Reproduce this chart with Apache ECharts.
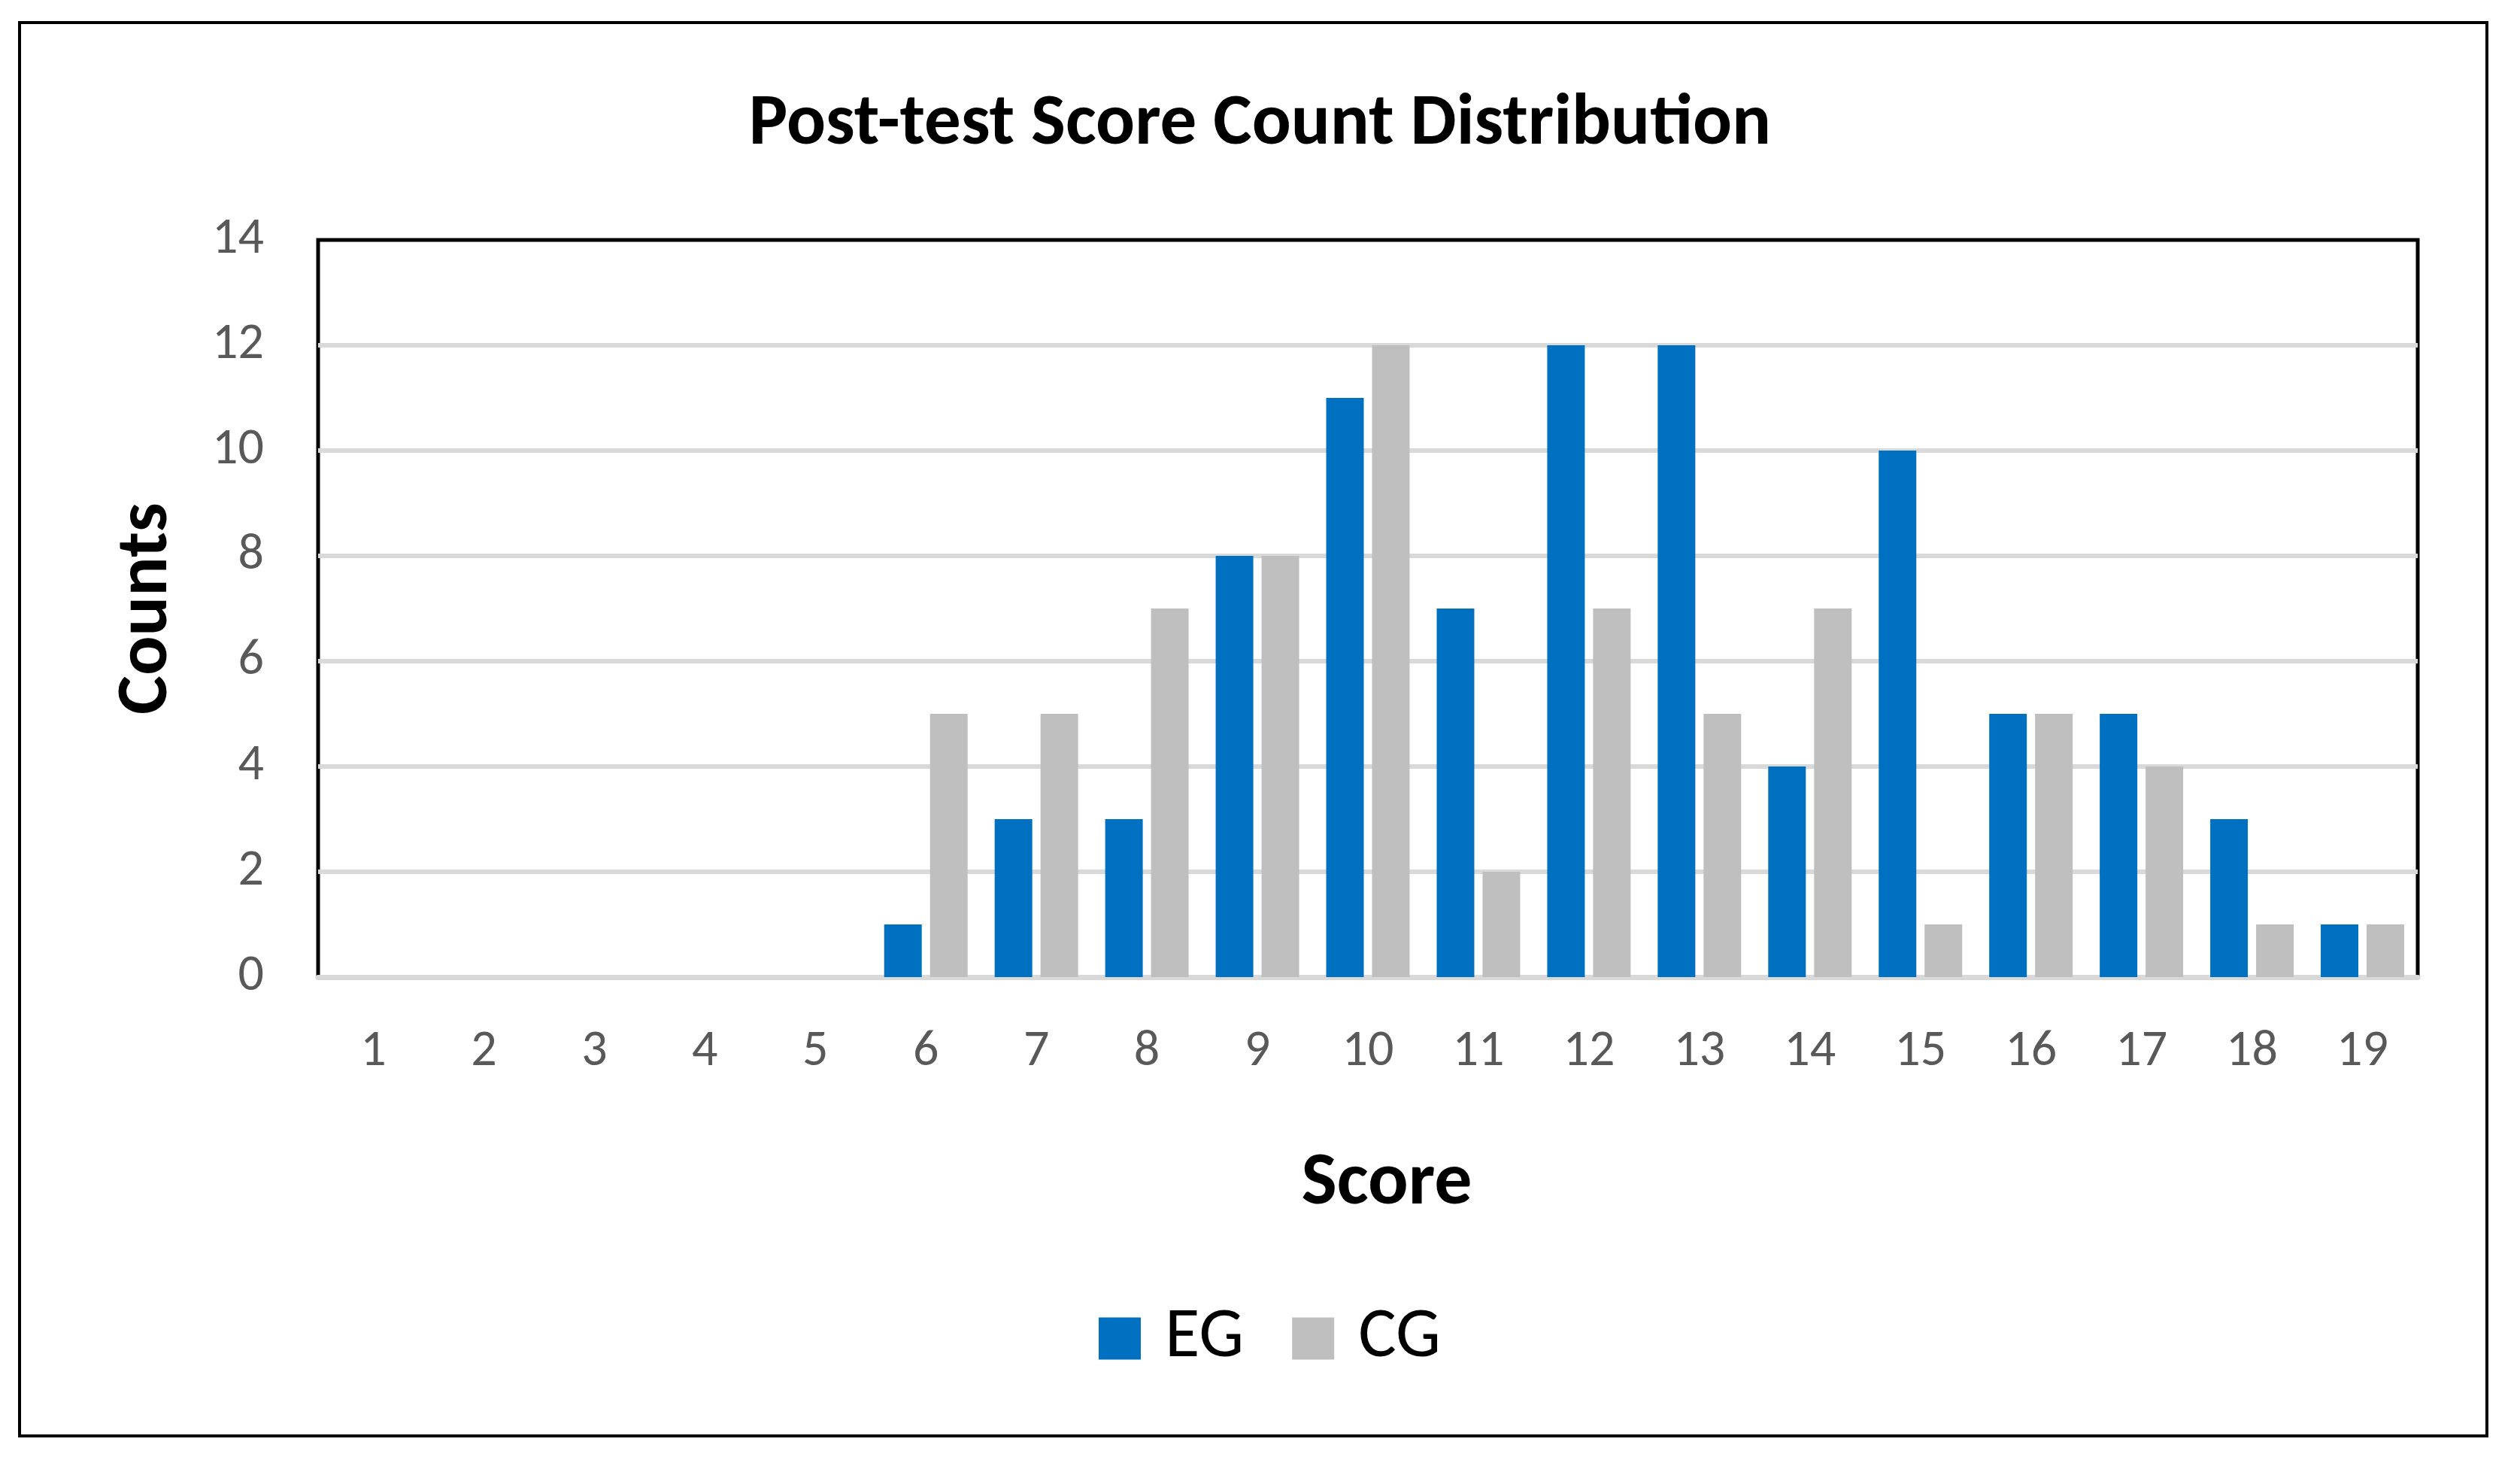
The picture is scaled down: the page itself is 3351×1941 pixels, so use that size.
<!DOCTYPE html>
<html lang="en">
<head>
  <meta charset="UTF-8">
  <title>Post-test Score Count Distribution</title>
  <script src="https://cdn.jsdelivr.net/npm/echarts@6/dist/echarts.min.js"></script>
  <style>
    html, body { margin: 0; padding: 0; background: #fff; }
    #chart { width: 3351px; height: 1941px; }
  </style>
</head>
<body>
  <div id="chart"></div>
<script>
  // data
  var scores = ['1', '2', '3', '4', '5', '6', '7', '8', '9', '10', '11', '12', '13', '14', '15', '16', '17', '18', '19']
  var egCounts = [0, 0, 0, 0, 0, 1, 3, 3, 8, 11, 7, 12, 12, 4, 10, 5, 5, 3, 1]
  var cgCounts = [0, 0, 0, 0, 0, 5, 5, 7, 8, 12, 2, 7, 5, 7, 1, 5, 4, 1, 1]
  var yTicks = { min: 0, max: 14, interval: 2 }

  var FONT = 'Carlito, Calibri, Lato, sans-serif'

  var chart = echarts.init(document.getElementById('chart'))

  chart.setOption({
    animation: false,
    backgroundColor: '#fff',
    // outer chart frame
    graphic: [{
      type: 'rect',
      shape: { x: 26, y: 30, width: 3281, height: 1879 },
      style: { fill: 'none', stroke: '#000', lineWidth: 4 },
      z: 0
    }],
    title: {
      text: 'Post-test Score Count Distribution',
      left: 'center',
      top: 118,
      padding: 0,
      textStyle: { fontFamily: FONT, fontWeight: 'bold', fontSize: 97, color: '#000' }
    },
    legend: {
      data: ['EG', 'CG'],
      left: 1461,
      top: 1732,
      padding: 0,
      icon: 'rect',
      itemWidth: 56,
      itemHeight: 56,
      itemGap: 64,
      textStyle: { fontFamily: FONT, fontSize: 95, color: '#000', padding: [0, 0, 0, 27] }
    },
    grid: {
      left: 423,
      top: 319,
      width: 2792,
      height: 980,
      show: true,
      borderColor: '#000',
      borderWidth: 5,
      backgroundColor: 'transparent'
    },
    xAxis: {
      type: 'category',
      data: scores,
      name: 'Score',
      nameLocation: 'middle',
      nameGap: 226,
      nameTextStyle: { fontFamily: FONT, fontWeight: 'bold', fontSize: 100, color: '#000', padding: [0, 0, 0, 50] },
      axisLine: { show: true, lineStyle: { color: '#D9D9D9', width: 7 } },
      axisTick: { show: false },
      axisLabel: { fontFamily: FONT, fontSize: 68, color: '#595959', margin: 66 },
      splitLine: { show: false }
    },
    yAxis: {
      type: 'value',
      min: yTicks.min,
      max: yTicks.max,
      interval: yTicks.interval,
      name: 'Counts',
      nameLocation: 'middle',
      nameGap: 178,
      nameTextStyle: { fontFamily: FONT, fontWeight: 'bold', fontSize: 98, color: '#000' },
      axisLine: { show: false },
      axisTick: { show: false },
      axisLabel: { fontFamily: FONT, fontSize: 68, color: '#595959', margin: 72 },
      splitLine: { show: true, showMaxLine: false, lineStyle: { color: '#D9D9D9', width: 6 } }
    },
    series: [
      {
        name: 'EG',
        type: 'bar',
        data: egCounts,
        barGap: '22%',
        barCategoryGap: '24.5%',
        itemStyle: { color: '#0070C0' }
      },
      {
        name: 'CG',
        type: 'bar',
        data: cgCounts,
        itemStyle: { color: '#BFBFBF' }
      }
    ]
  })
</script>
</body>
</html>
